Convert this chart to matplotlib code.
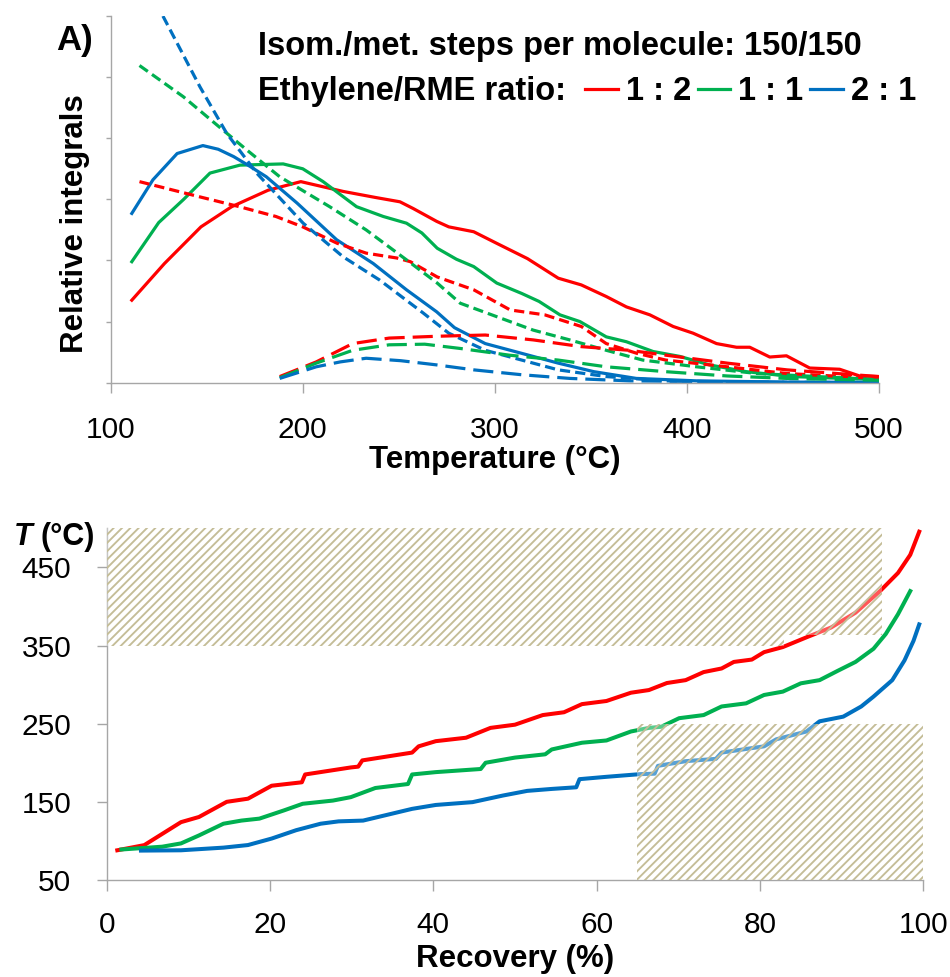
import matplotlib
matplotlib.use("Agg")
from matplotlib import pyplot as plt

plt.rcParams['font.family'] = ['Liberation Sans', 'DejaVu Sans']
plt.rcParams['hatch.linewidth'] = 1.35

RED = '#ff0000'
GREEN = '#00b050'
BLUE = '#0070c0'
AXIS = '#a6a6a6'
HATCH = '#c4bd97'

# --- panel A: relative integrals vs temperature ---
t_red = [111, 128, 147, 163, 182, 199, 221, 238, 250.6, 257.5, 269.7, 276, 289, 301, 317, 333, 345,
         358, 368.5, 380.7, 392.8, 403.2, 415.4, 425.8, 432.7, 443.1, 451.8, 463.9, 479.5, 489.9, 500]
y_red = [1.35, 1.95, 2.55, 2.88, 3.15, 3.29, 3.13, 3.03, 2.96, 2.85, 2.64, 2.55, 2.47, 2.28, 2.03, 1.71,
         1.60, 1.41, 1.24, 1.11, 0.92, 0.81, 0.64, 0.58, 0.58, 0.42, 0.44, 0.24, 0.22, 0.11, 0.10]
t_green = [111, 125, 138, 151.7, 167.3, 189.8, 200, 210.6, 228, 241.9, 254, 262, 270, 280, 289, 301, 314,
           323, 333.9, 344.3, 358, 368.5, 382.4, 396.3, 411.9, 431, 455, 500]
y_green = [1.98, 2.62, 3.0, 3.43, 3.56, 3.58, 3.50, 3.29, 2.88, 2.72, 2.61, 2.45, 2.20, 2.02, 1.90, 1.63,
           1.46, 1.33, 1.11, 1.0, 0.75, 0.67, 0.51, 0.43, 0.29, 0.18, 0.10, 0.05]
t_blue = [111, 122, 134.6, 148, 156, 164, 172.5, 181, 197, 217.6, 236.7, 254, 269.7, 279, 295, 314, 333,
          351.6, 373.6, 405, 452, 500]
y_blue = [2.77, 3.32, 3.75, 3.88, 3.82, 3.70, 3.54, 3.37, 2.94, 2.34, 1.95, 1.52, 1.16, 0.90, 0.64, 0.48,
          0.32, 0.18, 0.07, 0.03, 0.01, 0.005]

# short dashed
td_red = [115, 146.5, 167, 186, 200, 218, 233, 249, 256, 270, 289, 308, 326, 345, 358, 374, 389, 421, 452, 500]
yd_red = [3.29, 3.04, 2.88, 2.72, 2.55, 2.28, 2.12, 2.04, 1.98, 1.73, 1.52, 1.19, 1.11, 0.92, 0.64, 0.48,
          0.37, 0.26, 0.15, 0.07]
td_green = [115, 137.8, 155.2, 170.8, 188, 214, 233, 254, 270, 282, 301, 320, 339, 358, 377, 405, 436.5,
            468, 500]
yd_green = [5.19, 4.68, 4.22, 3.81, 3.37, 2.88, 2.50, 2.01, 1.63, 1.30, 1.08, 0.86, 0.70, 0.53, 0.37, 0.26,
            0.15, 0.10, 0.05]
td_blue = [127.2, 146.5, 160.4, 176, 200.2, 221, 240, 262.7, 276, 295, 314, 333, 358, 389, 421, 500]
yd_blue = [6.0, 4.84, 4.08, 3.43, 2.61, 2.06, 1.68, 1.14, 0.81, 0.53, 0.37, 0.21, 0.10, 0.03, 0.01, 0.0]

# long dashed
tl_red = [188, 207, 226, 245, 270, 295, 320, 345, 370, 389, 421, 452, 500]
yl_red = [0.10, 0.34, 0.64, 0.73, 0.76, 0.78, 0.70, 0.59, 0.53, 0.45, 0.32, 0.21, 0.10]
tl_green = [188, 207, 226, 245, 263.5, 282, 307.6, 333, 358, 389, 421, 452, 500]
yl_green = [0.08, 0.32, 0.53, 0.62, 0.63, 0.56, 0.45, 0.37, 0.26, 0.18, 0.11, 0.07, 0.04]
tl_blue = [188, 207, 219.5, 233, 251, 270, 289, 314, 339, 370, 405, 452]
yl_blue = [0.07, 0.26, 0.34, 0.40, 0.36, 0.29, 0.21, 0.13, 0.07, 0.03, 0.02, 0.005]

ratio_labels = ['1 : 2', '1 : 1', '2 : 1']

# --- panel B: temperature vs recovery ---
rec_red = [1.3, 4.6, 9.1, 11.3, 14.7, 17.3, 20.2, 23.9, 24.3, 29.9, 30.8, 31.3, 37.4, 38.2, 40.3, 44, 47,
           50, 53.4, 56, 58.2, 61.2, 64.2, 66.4, 68.6, 70.9, 73.1, 75.3, 76.8, 79, 80.5, 82.8, 85.7, 88.7,
           91.7, 94.7, 96.9, 98.4, 99.5]
T_red = [88, 94.6, 124, 130.6, 150, 154, 170.6, 175, 185, 194, 195, 203, 213, 221, 227.6, 232, 244.6,
         248.7, 261, 264.6, 275, 279, 289.6, 293, 302, 305.7, 316, 320.6, 329, 332, 341.5, 348, 360.5, 373,
         392, 419.6, 442.8, 466, 495.6]
rec_green = [1.8, 6.8, 9.1, 11.3, 14.3, 16.5, 18.7, 21.7, 24, 27.7, 29.9, 32.9, 36.9, 37.4, 40.3, 45.8,
             46.4, 50, 53.7, 54.5, 58.2, 61.2, 64.2, 66.4, 67.9, 70.1, 73.1, 75.3, 78.3, 80.5, 82.8, 85,
             87.3, 89.5, 91.7, 93.9, 95.4, 96.9, 98.4]
T_green = [89, 92.6, 96.8, 107, 122, 126, 128.5, 139, 147.5, 151.6, 156, 167.7, 172.8, 185, 188, 192,
           200, 206.6, 210.8, 217, 225.6, 228.5, 240, 244.6, 246, 257, 261, 272, 276, 286.7, 291, 301.6,
           305.7, 317.5, 329, 345.8, 364.7, 390, 419.6]
rec_blue = [4.2, 9.1, 14.3, 17.3, 20.2, 23.2, 26.2, 28.4, 31.4, 34.4, 37.4, 40.3, 44.8, 48.5, 51.5, 54.5,
            57.5, 57.9, 61.2, 65.3, 67.1, 67.5, 70.9, 74.6, 75.3, 80.5, 82, 85.7, 87.3, 90.2, 92.4, 93.9,
            96.2, 97.7, 98.8, 99.5]
T_blue = [87.6, 88, 91.4, 94.7, 103, 113.7, 122, 125, 126, 133.5, 141, 146, 149.6, 158, 164, 166.5,
          168.6, 179, 182, 185.4, 186, 196, 202, 205, 213, 221, 230, 240, 253, 259, 272, 284.6, 305.7,
          331, 356, 377]

hatch_top_rec = [0, 83, 83, 95, 95, 0]
hatch_top_T = [350, 350, 363, 363, 500, 500]
hatch_bot_rec = [65, 100, 100, 65]
hatch_bot_T = [50, 50, 250, 250]

fig = plt.figure(figsize=(9.5, 9.77), dpi=100)
ax1 = fig.add_axes([0.1165, 0.6083, 0.8088, 0.3753])
ax2 = fig.add_axes([0.1123, 0.0993, 0.8596, 0.3600])

lw1 = 2.3
short = (3.2, 1.6)
long_ = (6.3, 2.5)
h_red, = ax1.plot(t_red, y_red, color=RED, lw=lw1)
h_green, = ax1.plot(t_green, y_green, color=GREEN, lw=lw1)
h_blue, = ax1.plot(t_blue, y_blue, color=BLUE, lw=lw1)
for tx, yy, c in [(td_red, yd_red, RED), (td_green, yd_green, GREEN), (td_blue, yd_blue, BLUE)]:
    ax1.plot(tx, yy, color=c, lw=lw1, dashes=short)
for tx, yy, c in [(tl_red, yl_red, RED), (tl_green, yl_green, GREEN), (tl_blue, yl_blue, BLUE)]:
    ax1.plot(tx, yy, color=c, lw=lw1, dashes=long_)

ax1.set_xlim(100, 500)
ax1.set_ylim(0, 6)
ax1.set_xticks([100, 200, 300, 400, 500])
ax1.set_yticks(range(0, 7))
ax1.set_yticklabels([])
for s in ['top', 'right']:
    ax1.spines[s].set_visible(False)
for s in ['left', 'bottom']:
    ax1.spines[s].set_color(AXIS)
    ax1.spines[s].set_linewidth(1.0)
ax1.tick_params(axis='x', colors=AXIS, length=7, width=1.0, pad=17, labelsize=21.5, labelcolor='black')
ax1.tick_params(axis='y', colors=AXIS, length=3.6, width=1.0)

# --- panel B ---
lw2 = 2.9
ax2.plot(rec_red, T_red, color=RED, lw=lw2, zorder=2)
ax2.plot(rec_green, T_green, color=GREEN, lw=lw2, zorder=2)
ax2.plot(rec_blue, T_blue, color=BLUE, lw=lw2, zorder=2)
ax2.fill(hatch_top_rec, hatch_top_T, facecolor=(1, 1, 1, 0.35), edgecolor=HATCH, hatch='////',
         linewidth=0, zorder=3)
ax2.fill(hatch_bot_rec, hatch_bot_T, facecolor=(1, 1, 1, 0.35), edgecolor=HATCH, hatch='////',
         linewidth=0, zorder=3)

ax2.set_xlim(0, 100)
ax2.set_ylim(50, 500)
ax2.set_xticks([0, 20, 40, 60, 80, 100])
ax2.set_yticks([50, 150, 250, 350, 450])
for s in ['top', 'right']:
    ax2.spines[s].set_visible(False)
for s in ['left', 'bottom']:
    ax2.spines[s].set_color(AXIS)
    ax2.spines[s].set_linewidth(1.0)
ax2.tick_params(axis='x', colors=AXIS, length=8, width=1.0, pad=14, labelsize=21.5, labelcolor='black')
ax2.tick_params(axis='y', colors=AXIS, length=7.5, width=1.0, pad=18, labelsize=21.5, labelcolor='black')


def fx(px):
    return px / 950


def fy(py):
    return 1 - py / 977


fig.text(fx(56), fy(50), 'A)', fontsize=25, fontweight='bold', va='baseline', ha='left')
fig.text(fx(258), fy(55), 'Isom./met. steps per molecule: 150/150', fontsize=23.5,
         fontweight='bold', va='baseline', ha='left')
fig.text(fx(258), fy(100), 'Ethylene/RME ratio:', fontsize=23.5, fontweight='bold',
         va='baseline', ha='left')
fig.legend([h_red, h_green, h_blue], ratio_labels, loc='center left',
           bbox_to_anchor=(fx(585), fy(92)), ncol=3, frameon=False,
           prop={'weight': 'bold', 'size': 23.5}, handlelength=1.0, handletextpad=0.25,
           columnspacing=0.2, borderpad=0, borderaxespad=0)
fig.text(fx(74.5), fy(224), 'Relative integrals', fontsize=22.5, fontweight='bold',
         rotation=90, va='center', ha='center')
fig.text(fx(495), fy(468), 'Temperature (°C)', fontsize=22.5, fontweight='bold',
         va='baseline', ha='center')
fig.text(fx(515), fy(967), 'Recovery (%)', fontsize=22.5, fontweight='bold',
         va='baseline', ha='center')
fig.text(fx(14), fy(545), 'T', fontsize=22, fontweight='bold', style='italic',
         va='baseline', ha='left')
fig.text(fx(40), fy(545), '(°C)', fontsize=22, fontweight='bold', va='baseline', ha='left')

fig.savefig('out.png', dpi=100)
